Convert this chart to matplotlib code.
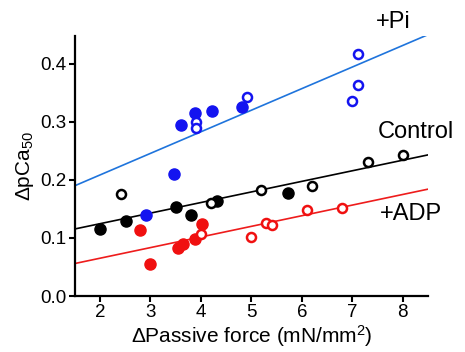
import matplotlib
matplotlib.use("Agg")
import matplotlib.pyplot as plt

plt.rcParams["font.family"] = ["Liberation Sans", "DejaVu Sans"]
plt.rcParams["mathtext.fontset"] = "custom"
plt.rcParams["mathtext.rm"] = "Liberation Sans"
plt.rcParams["mathtext.it"] = "Liberation Sans"

# Control
ctrl_fill_x = [2.0, 2.51, 3.5, 3.8, 4.31, 5.72]
ctrl_fill_y = [0.115, 0.130, 0.153, 0.140, 0.164, 0.178]
ctrl_open_x = [2.41, 4.2, 5.2, 6.2, 7.31, 8.0]
ctrl_open_y = [0.175, 0.161, 0.182, 0.190, 0.230, 0.243]
ctrl_fit = [0.1155, 0.243]

# +ADP
adp_fill_x = [2.79, 2.99, 3.54, 3.65, 3.89, 4.03]
adp_fill_y = [0.113, 0.056, 0.082, 0.089, 0.099, 0.124]
adp_open_x = [4.01, 5.0, 5.3, 5.41, 6.1, 6.8]
adp_open_y = [0.107, 0.102, 0.125, 0.122, 0.148, 0.152]
adp_fit = [0.056, 0.184]

# +Pi
pi_fill_x = [2.91, 3.47, 3.6, 3.88, 4.21, 4.81]
pi_fill_y = [0.140, 0.211, 0.295, 0.316, 0.318, 0.326]
pi_open_x = [3.9, 3.9, 4.92, 7.0, 7.11, 7.11]
pi_open_y = [0.299, 0.290, 0.343, 0.336, 0.364, 0.417]
pi_fit = [0.19, 0.45]

fit_x = [1.5, 8.5]

fig = plt.figure(figsize=(4.65, 3.52), dpi=100)
ax = fig.add_axes([0.161, 0.159, 0.759, 0.739])

groups = [
    (ctrl_fill_x, ctrl_fill_y, ctrl_open_x, ctrl_open_y, ctrl_fit, "black", "black"),
    (adp_fill_x, adp_fill_y, adp_open_x, adp_open_y, adp_fit, "#f01010", "#ee1c1c"),
    (pi_fill_x, pi_fill_y, pi_open_x, pi_open_y, pi_fit, "#1414f0", "#1f74dc"),
]
for fx, fy, ox, oy, fit, c, lc in groups:
    ax.plot(fit_x, fit, color=lc, lw=1.2, zorder=1)
    ax.plot(fx, fy, "o", color=c, ms=8, mec=c, zorder=3, clip_on=False)
    ax.plot(ox, oy, "o", mfc="white", mec=c, ms=6.5, mew=1.8, zorder=3, clip_on=False)

ax.text(7.47, 0.472, "+Pi", fontsize=17, ha="left", va="center")
ax.text(7.5, 0.283, "Control", fontsize=17, ha="left", va="center")
ax.text(7.54, 0.141, "+ADP", fontsize=17, ha="left", va="center")

ax.set_xlim(1.5, 8.5)
ax.set_ylim(0, 0.448)
ax.set_xticks([2, 3, 4, 5, 6, 7, 8])
ax.set_yticks([0.0, 0.1, 0.2, 0.3, 0.4])
ax.set_yticklabels(["0.0", "0.1", "0.2", "0.3", "0.4"])
ax.tick_params(labelsize=13.5, width=1.5, length=4, direction="out", pad=2)
for s in ["top", "right"]:
    ax.spines[s].set_visible(False)
for s in ["left", "bottom"]:
    ax.spines[s].set_linewidth(1.6)
ax.set_xlabel("ΔPassive force (mN/mm$^{2}$)", fontsize=15, labelpad=1)
ax.set_ylabel("ΔpCa$_{50}$", fontsize=15, labelpad=3)

fig.savefig("out.png", dpi=100)
